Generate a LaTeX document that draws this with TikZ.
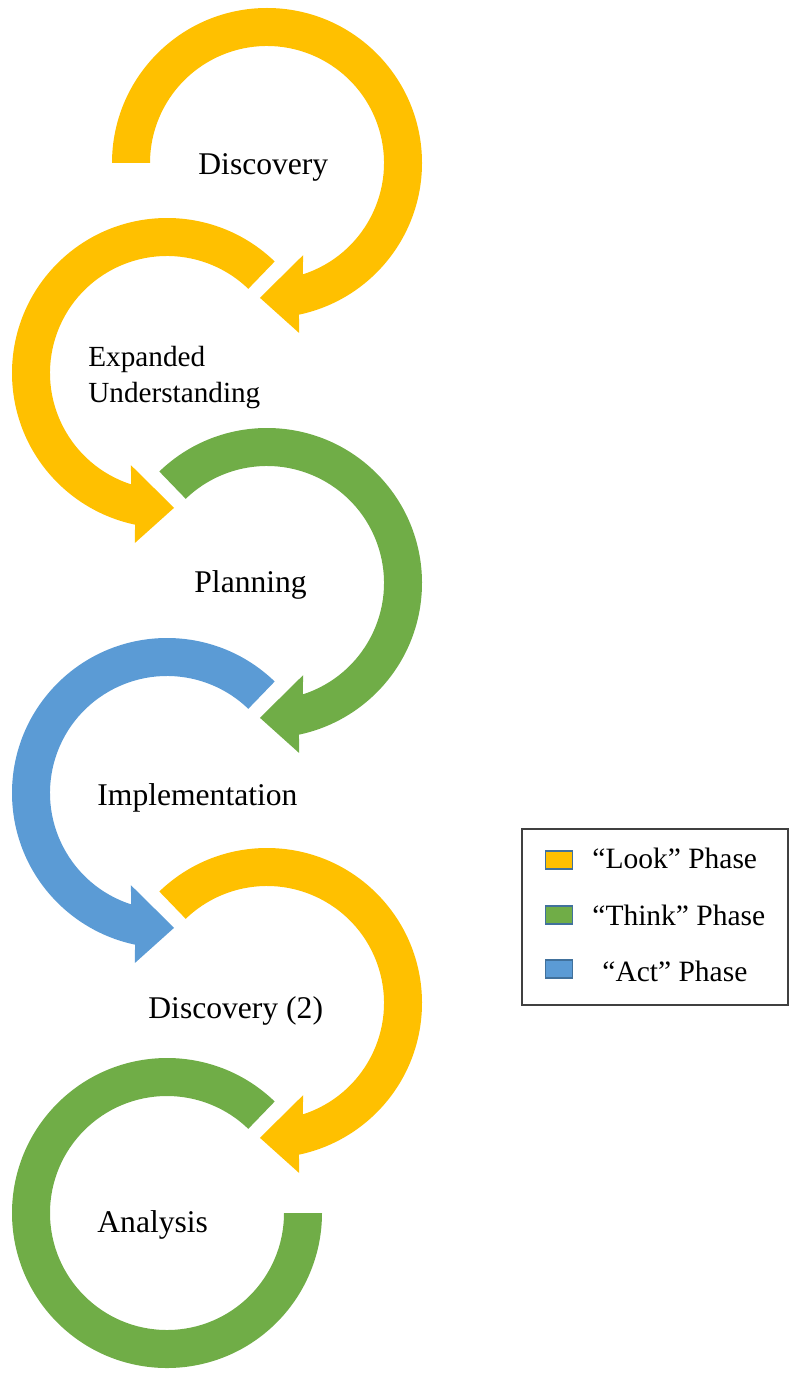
\documentclass[tikz,border=0pt]{standalone}
\usepackage{fontspec}
\setmainfont{Liberation Serif}
\definecolor{lookc}{HTML}{FFC000}
\definecolor{thinkc}{HTML}{70AD47}
\definecolor{actc}{HTML}{5B9BD5}
\definecolor{swatchedge}{HTML}{41719C}
\definecolor{boxedge}{HTML}{404040}
\begin{document}
\begin{tikzpicture}[x=0.5pt,y=0.5pt,
  label/.style={inner sep=0pt,anchor=base west,font=\fontsize{15.8}{19}\selectfont},
  smalllabel/.style={inner sep=0pt,anchor=base west,align=left,font=\fontsize{14.6}{18}\selectfont},
  legtext/.style={inner sep=0pt,anchor=base west,font=\fontsize{14.75}{18}\selectfont},
  swatch/.style={draw=swatchedge,line width=0.75pt,minimum width=13.5pt,minimum height=9pt,inner sep=0pt},
  % curved arrow: thick ring from the tail angle round to an arrow head below
  pics/turn/.style 2 args={code={
    \fill[#1] (#2:155) arc[start angle=#2,end angle=-78.1,radius=155]
      -- (-79.3:173) -- (-93:135) -- (-68.6:99) -- (-72.2:117)
      arc[start angle=-72.2,end angle=#2,radius=117] -- cycle;
  }},
  % closing ring without a head
  pics/endring/.style={code={
    \fill[#1] (134:155) arc[start angle=134,end angle=-180,radius=155]
      -- (-180:117) arc[start angle=-180,end angle=134,radius=117] -- cycle;
  }}
]
\useasboundingbox (0,0) rectangle (793,-1374);

% ring centres
\coordinate (c1) at (267,-163);
\coordinate (c2) at (167,-373);
\coordinate (c3) at (267,-583);
\coordinate (c4) at (167,-793);
\coordinate (c5) at (267,-1003);
\coordinate (c6) at (167,-1213);

\pic at (c1) {turn={lookc}{180}};
\pic[xscale=-1] at (c2) {turn={lookc}{134}};
\pic at (c3) {turn={thinkc}{134}};
\pic[xscale=-1] at (c4) {turn={actc}{134}};
\pic at (c5) {turn={lookc}{134}};
\pic[xscale=-1] at (c6) {endring={thinkc}};

% step labels
\node[label] (l1) at (198,-175) {Discovery};
\node[smalllabel,anchor=north west] (l2) at (88,-346) {Expanded\\Understanding};
\node[label] (l3) at (194,-592) {Planning};
\node[label] (l4) at (97,-805) {Implementation};
\node[label] (l5) at (148,-1018) {Discovery (2)};
\node[label] (l6) at (97,-1232) {Analysis};

% legend
\draw[boxedge,line width=0.6pt] (522,-829) rectangle (788,-1005);
\node[swatch,fill=lookc] (s1) at (559,-860) {};
\node[swatch,fill=thinkc] (s2) at (559,-915) {};
\node[swatch,fill=actc] (s3) at (559,-969) {};
\node[legtext] (t1) at (592,-868) {“Look” Phase};
\node[legtext] (t2) at (592,-925) {“Think” Phase};
\node[legtext] (t3) at (602,-981) {“Act” Phase};
\end{tikzpicture}
\end{document}
